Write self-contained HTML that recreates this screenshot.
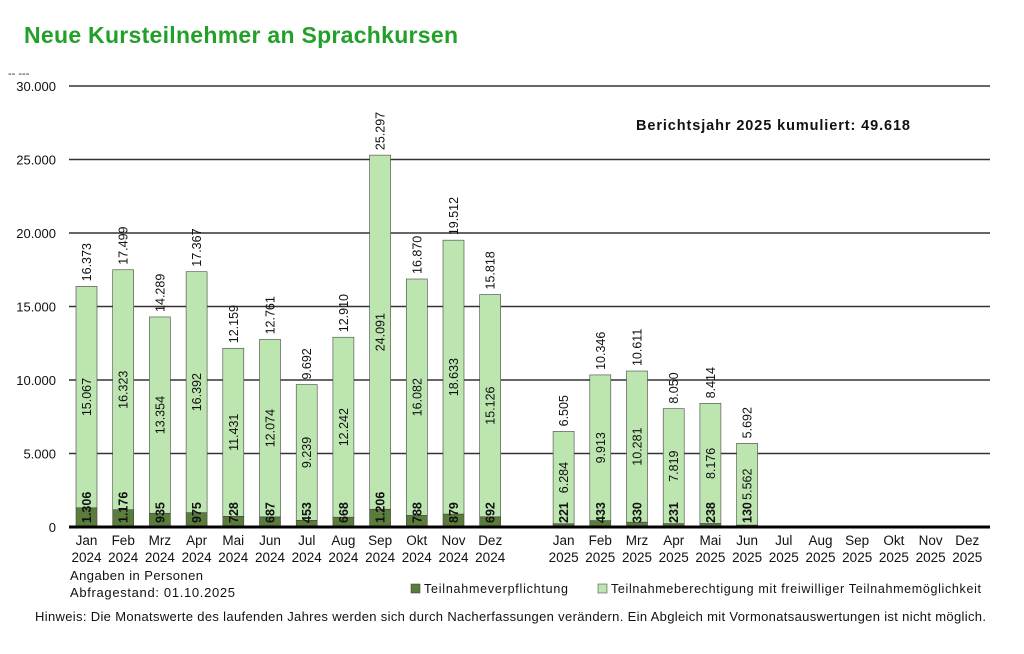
<!DOCTYPE html>
<html><head><meta charset="utf-8"><style>
body{margin:0;background:#fff;width:1024px;height:654px;overflow:hidden;font-family:"Liberation Sans",sans-serif}
svg{position:absolute;left:0;top:0}
</style></head><body>
<svg id="c" width="1024" height="654" xmlns="http://www.w3.org/2000/svg" font-family="Liberation Sans, sans-serif">
<text x="24" y="43" font-size="23" font-weight="bold" fill="#22a02a" textLength="434">Neue Kursteilnehmer an Sprachkursen</text>
<text x="8" y="77" font-size="11" fill="#222">-- ---</text>
<text x="636" y="130" font-size="14.5" font-weight="bold" fill="#111" textLength="274">Berichtsjahr 2025 kumuliert: 49.618</text>
<text x="70" y="580" font-size="13" fill="#111" textLength="133">Angaben in Personen</text>
<text x="70" y="597" font-size="13" fill="#111" textLength="165">Abfragestand: 01.10.2025</text>
<rect x="411" y="584" width="9" height="9" fill="#5b7d3c" stroke="#333" stroke-width="0.5"/>
<text x="424" y="593" font-size="12.5" fill="#111" textLength="144">Teilnahmeverpflichtung</text>
<rect x="598" y="584" width="9" height="9" fill="#bde5b0" stroke="#333" stroke-width="0.5"/>
<text x="611" y="593" font-size="12.5" fill="#111" textLength="370">Teilnahmeberechtigung mit freiwilliger Teilnahmemöglichkeit</text>
<text x="35" y="621" font-size="13" fill="#111" textLength="951">Hinweis: Die Monatswerte des laufenden Jahres werden sich durch Nacherfassungen  verändern. Ein Abgleich mit Vormonatsauswertungen ist nicht möglich.</text>
<g id="g"></g>
</svg>
<script>
var g=document.getElementById('g'),s='';
var y0=527,k=441/30000;
var yl=['0','5.000','10.000','15.000','20.000','25.000','30.000'];
for(var i=1;i<=6;i++){var y=y0-i*5000*k;s+='<line x1="69" x2="990" y1="'+y+'" y2="'+y+'" stroke="#333" stroke-width="1.5"/>';}
for(var i=0;i<=6;i++){var y=y0-i*5000*k;s+='<text x="56" y="'+(y+5)+'" font-size="13" text-anchor="end" fill="#111">'+yl[i]+'</text>';}
var d=[[1306,15067],[1176,16323],[935,13354],[975,16392],[728,11431],[687,12074],[453,9239],[668,12242],[1206,24091],[788,16082],[879,18633],[692,15126],null,[221,6284],[433,9913],[330,10281],[231,7819],[238,8176],[130,5562]];
var m=['Jan','Feb','Mrz','Apr','Mai','Jun','Jul','Aug','Sep','Okt','Nov','Dez'];
function f(n){return n>=1000?Math.floor(n/1000)+'.'+String(n%1000).padStart(3,'0'):String(n);}
function rt(x,y,t,anc,bold){return '<text transform="translate('+(x+4.5)+','+y+') rotate(-90)" font-size="12.5" '+(bold?'font-weight="bold" ':'')+'text-anchor="'+anc+'" fill="#111">'+t+'</text>';}
for(var i=0;i<25;i++){
 var cx=86.5+i*36.7;
 if(i!=12){var mi=i<12?i:i-13;var yr=i<12?'2024':'2025';
  s+='<text x="'+cx+'" y="545" font-size="13.5" text-anchor="middle" fill="#111">'+m[mi]+'</text>';
  s+='<text x="'+cx+'" y="562" font-size="13.5" text-anchor="middle" fill="#111">'+yr+'</text>';}
 var v=d[i];if(!v)continue;
 var hd=v[0]*k,hl=v[1]*k,tot=v[0]+v[1],yt=y0-hd-hl;
 s+='<rect x="'+(cx-10.5)+'" y="'+(y0-hd)+'" width="21" height="'+hd+'" fill="#5b7d3c" stroke="#444" stroke-width="0.6"/>';
 s+='<rect x="'+(cx-10.5)+'" y="'+yt+'" width="21" height="'+hl+'" fill="#bde5b0" stroke="#444" stroke-width="0.6"/>';
 s+=rt(cx,yt-5,f(tot),'start',false);
 s+=rt(cx,y0-hd-hl/2,f(v[1]),'middle',false);
 s+=rt(cx,y0-4,f(v[0]),'start',true);
}
s+='<line x1="69" x2="990" y1="'+y0+'" y2="'+y0+'" stroke="#000" stroke-width="3"/>';
g.innerHTML=s;
</script>
</body></html>
